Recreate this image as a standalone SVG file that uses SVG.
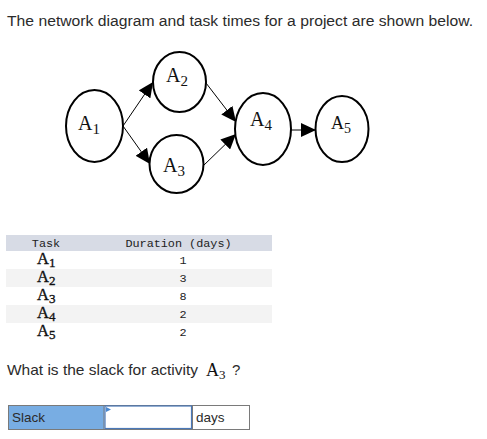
<svg xmlns="http://www.w3.org/2000/svg" width="487" height="439" viewBox="0 0 487 439">
<style>
.sans{font-family:"Liberation Sans",Arial,sans-serif;fill:#2b2b2b}
.serif{font-family:"Liberation Serif","Times New Roman",serif;fill:#111}
.tl{font-family:"Liberation Serif","Times New Roman",serif;fill:#111;stroke:#111;stroke-width:0.35;font-size:16.5px}
.mono{font-family:"Liberation Mono","DejaVu Sans Mono",monospace;font-size:11.8px;fill:#222}
.node ellipse{fill:#fff;stroke:#000;stroke-width:2}
.edge{stroke:#000;stroke-width:1;fill:none;marker-end:url(#ah)}
</style>
<defs>
<marker id="ah" markerUnits="userSpaceOnUse" markerWidth="15" markerHeight="14" refX="15" refY="7" orient="auto">
<path d="M0,0 L15,7 L0,14 z" fill="#000"/>
</marker>
</defs>
<rect width="487" height="439" fill="#fff"/>
<text class="sans" x="7" y="26" font-size="15.5" textLength="466" lengthAdjust="spacingAndGlyphs">The network diagram and task times for a project are shown below.</text>

<g id="connectors">
<line class="edge" x1="123" y1="126" x2="153" y2="82"/>
<line class="edge" x1="123" y1="126" x2="150" y2="164"/>
<line class="edge" x1="206" y1="83" x2="236" y2="122"/>
<line class="edge" x1="203" y1="166" x2="236" y2="134"/>
<line class="edge" x1="291" y1="130" x2="316" y2="130"/>
</g>

<g id="A1" class="node"><ellipse cx="94.5" cy="126" rx="28.5" ry="36"/><text class="serif" x="78" y="130" font-size="20">A<tspan font-size="15" dy="4">1</tspan></text></g>
<g id="A2" class="node"><ellipse cx="179.5" cy="82" rx="26.5" ry="30"/><text class="serif" x="166" y="82" font-size="20">A<tspan font-size="15" dy="4">2</tspan></text></g>
<g id="A3" class="node"><ellipse cx="176.5" cy="164" rx="27" ry="29"/><text class="serif" x="163" y="172" font-size="20">A<tspan font-size="15" dy="4">3</tspan></text></g>
<g id="A4" class="node"><ellipse cx="263" cy="129" rx="28" ry="36"/><text class="serif" x="250" y="126" font-size="20">A<tspan font-size="15" dy="4">4</tspan></text></g>
<g id="A5" class="node"><ellipse cx="342" cy="129" rx="26.5" ry="33"/><text class="serif" x="331" y="129" font-size="18">A<tspan font-size="14" dy="4">5</tspan></text></g>

<g id="table">
<rect x="6" y="235" width="266" height="16" fill="#d7dbe5"/>
<rect x="6" y="269" width="266" height="18" fill="#f3f3f3"/>
<rect x="6" y="305" width="266" height="18" fill="#f3f3f3"/>
<text class="mono" x="46" y="246.5" text-anchor="middle">Task</text>
<text class="mono" x="178.5" y="246.5" text-anchor="middle">Duration (days)</text>
<text class="tl" x="37" y="264">A<tspan font-size="13" dy="3">1</tspan></text>
<text class="tl" x="37" y="282">A<tspan font-size="13" dy="3">2</tspan></text>
<text class="tl" x="37" y="300">A<tspan font-size="13" dy="3">3</tspan></text>
<text class="tl" x="37" y="318">A<tspan font-size="13" dy="3">4</tspan></text>
<text class="tl" x="37" y="336">A<tspan font-size="13" dy="3">5</tspan></text>
<text class="mono" x="183" y="264" text-anchor="middle">1</text>
<text class="mono" x="183" y="282" text-anchor="middle">3</text>
<text class="mono" x="183" y="300" text-anchor="middle">8</text>
<text class="mono" x="183" y="318" text-anchor="middle">2</text>
<text class="mono" x="183" y="336" text-anchor="middle">2</text>
</g>

<text class="sans" x="7" y="375" font-size="15" textLength="191" lengthAdjust="spacingAndGlyphs">What is the slack for activity</text>
<text class="serif" x="206" y="376" font-size="18">A<tspan font-size="13" dy="3">3</tspan></text>
<text class="sans" x="232" y="375" font-size="15">?</text>

<g id="answer">
<rect x="8.5" y="405.5" width="241" height="24" fill="#fff" stroke="#7a7a7a"/>
<rect x="9" y="406" width="95" height="23" fill="#78ade3"/>
<line x1="104" y1="405.5" x2="104" y2="429.5" stroke="#7a7a7a"/>
<rect x="105" y="406" width="86.5" height="22.5" fill="#fff" stroke="#4a78b8" stroke-width="1.2"/>
<path d="M106,407 L111,409.5 L106,412 z" fill="#4a88d0"/>
<line x1="192.5" y1="405.5" x2="192.5" y2="429.5" stroke="#7a7a7a"/>
<text class="sans" x="12" y="422" font-size="13.5" fill="#222">Slack</text>
<text class="sans" x="196" y="422" font-size="13.5" fill="#222">days</text>
</g>
</svg>
